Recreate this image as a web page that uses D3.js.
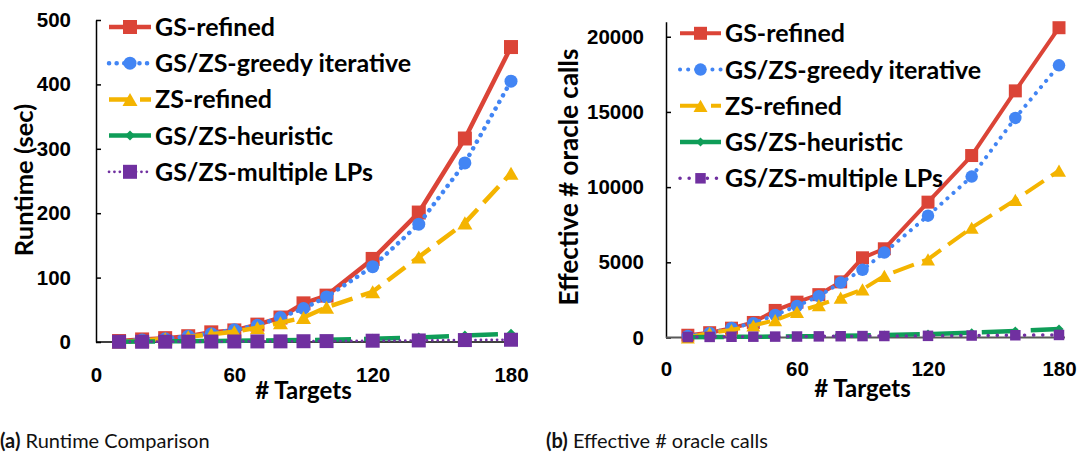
<!DOCTYPE html>
<html>
<head>
<meta charset="utf-8">
<script src="https://cdn.jsdelivr.net/npm/d3@7"></script>
<style>
  body { margin: 0; background: #fff; }
  svg { display: block; font-family: Lato, "Open Sans", sans-serif; }
</style>
</head>
<body>
<svg id="chart" width="1081" height="456"></svg>
<script>
// ---- data ----
const targets = [10, 20, 30, 40, 50, 60, 70, 80, 90, 100, 120, 140, 160, 180];
const seriesNames = ["GS-refined", "GS/ZS-greedy iterative", "ZS-refined", "GS/ZS-heuristic", "GS/ZS-multiple LPs"];
const xTickValues = [0, 60, 120, 180];

// (a) runtime in seconds
const runtimeGSRefined   = [1.5, 4, 6, 9, 15, 18, 27, 38, 60, 72, 129, 201, 316, 458];
const runtimeGreedyIter  = [1, 3, 5, 9, 13, 19, 26, 38, 52, 70, 117, 183, 278, 405];
const runtimeZSRefined   = [0, 2, 5, 8, 12, 16, 22, 30, 38, 54, 78, 132, 185, 262];
const runtimeHeuristic   = [0.5, 0.8, 1, 1.3, 1.6, 2, 2.3, 2.7, 3, 3.5, 5, 7, 10, 13];
const runtimeMultipleLPs = [0.3, 0.4, 0.5, 0.6, 0.7, 0.8, 0.9, 1.0, 1.2, 1.4, 2, 2.4, 3, 3.5];
const runtimeTicks = [0, 100, 200, 300, 400, 500];

// (b) effective number of oracle calls
const oracleGSRefined   = [150, 320, 620, 1000, 1800, 2350, 2850, 3700, 5300, 5900, 9000, 12100, 16400, 20600];
const oracleGreedyIter  = [100, 300, 630, 950, 1500, 2100, 2750, 3650, 4500, 5650, 8100, 10700, 14600, 18100];
const oracleZSRefined   = [0, 300, 500, 800, 1150, 1700, 2150, 2650, 3200, 4100, 5200, 7300, 9150, 11100];
const oracleHeuristic   = [20, 30, 40, 50, 60, 80, 90, 110, 130, 160, 230, 320, 430, 560];
const oracleMultipleLPs = [30, 40, 50, 55, 60, 65, 75, 85, 95, 100, 110, 130, 150, 170];
const oracleTicks = [0, 5000, 10000, 15000, 20000];

// ---- series styling ----
const styles = [
  { color: "#DB4437", marker: "square",   dash: null,  cap: "butt",  legendDash: null },
  { color: "#4285F4", marker: "circle",   dash: "dot", cap: "round", legendDash: "dot" },
  { color: "#F4B400", marker: "triangle", dash: "22,9", cap: "butt", legendDash: "22,9" },
  { color: "#0F9D58", marker: "diamond",  dash: "36,13", cap: "butt", legendDash: null },
  { color: "#7030A0", marker: "square",   dash: "dot2", cap: "round", legendDash: "dot2" }
];

const svg = d3.select("#chart");

function markerPath(type, s) {
  const h = s / 2;
  if (type === "square") return `M${-h},${-h}H${h}V${h}H${-h}Z`;
  if (type === "diamond") return `M0,${-h}L${h},0L0,${h}L${-h},0Z`;
  if (type === "triangle") { const t = s * 0.87 / 2; return `M0,${-t}L${h},${t}L${-h},${t}Z`; }
  const r = h; // circle
  return `M${r},0A${r},${r} 0 1,1 ${-r},0A${r},${r} 0 1,1 ${r},0Z`;
}

function drawPanel(cfg) {
  const g = svg.append("g");
  const x = d3.scaleLinear().domain([0, 180]).range(cfg.xRange);
  const y = d3.scaleLinear().domain([0, cfg.yMax]).range(cfg.yRange);

  // y axis
  const yAxis = d3.axisLeft(y).tickValues(cfg.yTicks).tickSizeInner(-5).tickSizeOuter(0)
    .tickPadding(cfg.yPad).tickFormat(d3.format("d"));
  const ya = g.append("g").attr("transform", `translate(${cfg.xRange[0]},0)`).call(yAxis);
  ya.select(".domain").attr("stroke", cfg.yAxisColor).attr("stroke-width", 1.5);
  ya.selectAll(".tick line").attr("stroke", cfg.yAxisColor).attr("stroke-width", 1.5);
  ya.selectAll("text").attr("font-size", 20.5).attr("font-weight", 700).attr("fill", "#000");

  // x axis
  const xAxis = d3.axisBottom(x).tickValues(xTickValues).tickSize(0).tickPadding(cfg.xPad);
  const xa = g.append("g").attr("transform", `translate(0,${cfg.yRange[0]})`).call(xAxis);
  xa.select(".domain").remove();
  xa.selectAll("text").attr("font-size", 20.5).attr("font-weight", 700).attr("fill", "#000");
  g.append("line")
    .attr("x1", cfg.xRange[0]).attr("x2", x(180) + 6)
    .attr("y1", cfg.yRange[0]).attr("y2", cfg.yRange[0])
    .attr("stroke", cfg.xAxisColor).attr("stroke-width", cfg.xAxisWidth);

  // axis titles
  g.append("text")
    .attr("transform", `translate(${cfg.yTitleX},${cfg.yTitleY}) rotate(-90)`)
    .attr("text-anchor", "middle").attr("font-size", cfg.yTitleSize).attr("font-weight", 700)
    .text(cfg.yTitle);
  g.append("text")
    .attr("x", (cfg.xRange[0] + cfg.xRange[1]) / 2).attr("y", cfg.xTitleY)
    .attr("text-anchor", "middle").attr("font-size", 24).attr("font-weight", 700)
    .text("# Targets");

  function dashFor(d) {
    if (d === "dot") return `0.1,${cfg.dotGap}`;
    if (d === "dot2") return `0.1,${cfg.dot2Gap}`;
    return d;
  }
  function widthFor(i) { return cfg.lineWidths[i]; }

  const line = d3.line().x(d => x(d[0])).y(d => y(d[1]));

  // series, drawn in order so later series sit on top
  cfg.series.forEach((vals, i) => {
    const st = styles[i];
    const pts = targets.map((t, k) => [t, vals[k]]);
    g.append("path").datum(pts)
      .attr("d", line).attr("fill", "none")
      .attr("stroke", st.color).attr("stroke-width", widthFor(i))
      .attr("stroke-linecap", st.cap).attr("stroke-linejoin", "round")
      .attr("stroke-dasharray", dashFor(st.dash));
    g.selectAll(null).data(pts).enter().append("path")
      .attr("transform", d => `translate(${x(d[0])},${y(d[1])})`)
      .attr("d", markerPath(st.marker, cfg.markerSizes[i]))
      .attr("fill", st.color);
  });

  // legend
  const L = cfg.legend;
  seriesNames.forEach((name, i) => {
    const st = styles[i];
    const ry = L.y0 + i * L.step;
    g.append("line").attr("x1", L.x0).attr("x2", L.x1).attr("y1", ry).attr("y2", ry)
      .attr("stroke", st.color).attr("stroke-width", widthFor(i))
      .attr("stroke-linecap", st.cap)
      .attr("stroke-dasharray", dashFor(st.legendDash));
    g.append("path").attr("transform", `translate(${(L.x0 + L.x1) / 2},${ry})`)
      .attr("d", markerPath(st.marker, cfg.markerSizes[i])).attr("fill", st.color);
    g.append("text").attr("x", L.textX).attr("y", ry).attr("dy", "0.36em")
      .attr("font-size", 25).attr("font-weight", 700).attr("fill", "#000").text(name);
  });

  // caption
  const cap = g.append("text").attr("x", cfg.captionX).attr("y", 448).attr("font-size", 20).attr("fill", "#111");
  cap.append("tspan").attr("font-weight", 700).text(cfg.captionTag);
  cap.append("tspan").text(" " + cfg.caption);
}

drawPanel({
  xRange: [96, 511], yRange: [342, 20], yMax: 500, yTicks: runtimeTicks,
  yPad: 25, xPad: 25, yAxisColor: "#000", xAxisColor: "#000", xAxisWidth: 1.5,
  yTitle: "Runtime (sec)", yTitleX: 33, yTitleY: 180, yTitleSize: 25.5, xTitleY: 399,
  series: [runtimeGSRefined, runtimeGreedyIter, runtimeZSRefined, runtimeHeuristic, runtimeMultipleLPs],
  lineWidths: [4.5, 4.5, 4.5, 4.5, 2.7],
  markerSizes: [14, 13, 15, 10, 14],
  dotGap: 7.5, dot2Gap: 5.3,
  legend: { x0: 109, x1: 151, textX: 155, y0: 27, step: 36.2 },
  captionX: 0, captionTag: "(a)", caption: "Runtime Comparison"
});

drawPanel({
  xRange: [666, 1059], yRange: [337.5, 21.7], yMax: 21000, yTicks: oracleTicks,
  yPad: 22, xPad: 24, yAxisColor: "#000", xAxisColor: "#595959", xAxisWidth: 2,
  yTitle: "Effective # oracle calls", yTitleX: 578, yTitleY: 177, yTitleSize: 26, xTitleY: 397,
  series: [oracleGSRefined, oracleGreedyIter, oracleZSRefined, oracleHeuristic, oracleMultipleLPs],
  lineWidths: [4, 4, 4, 4.5, 3.5],
  markerSizes: [13, 12.5, 14, 9, 10.5],
  dotGap: 8, dot2Gap: 9,
  legend: { x0: 680, x1: 721, textX: 725, y0: 33.3, step: 36.25 },
  captionX: 546, captionTag: "(b)", caption: "Effective # oracle calls"
});
</script>
</body>
</html>
